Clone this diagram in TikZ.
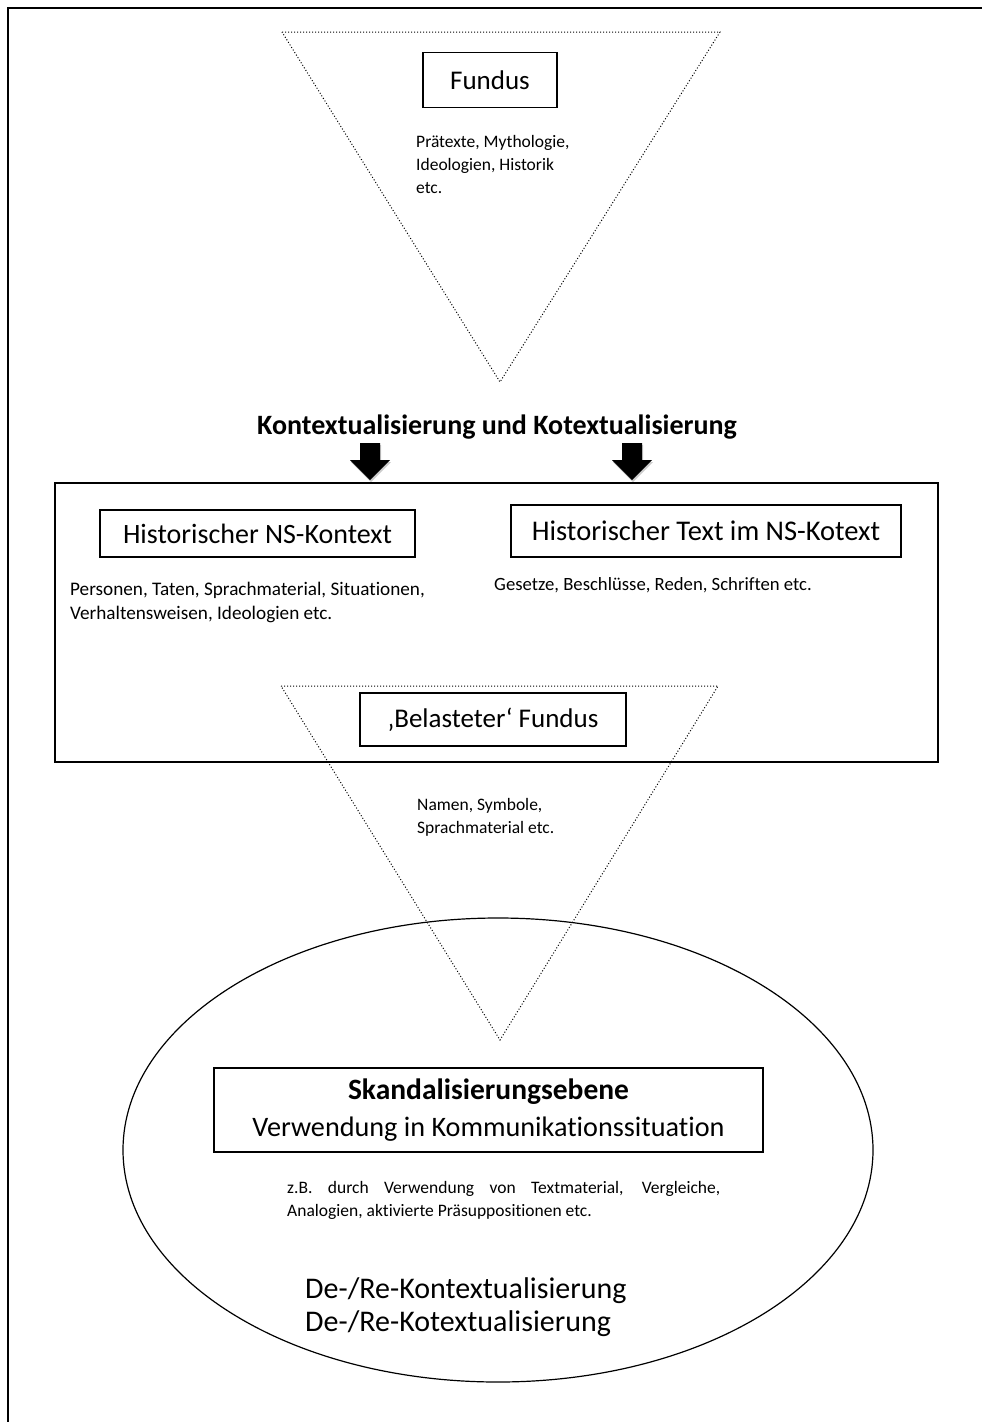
\documentclass[tikz,border=0pt]{standalone}
\usepackage{fontspec}
\setmainfont{Carlito}[Ligatures=NoCommon]
\usetikzlibrary{positioning,shadows}

\begin{document}
\begin{tikzpicture}[x=1pt,y=-1pt,
  labelbox/.style={draw,line width=1.2pt,fill=white,inner sep=0pt,font=\fontsize{27}{33}\selectfont},
  smalltext/.style={font=\fontsize{17.5}{23}\selectfont,align=left,anchor=north west,inner sep=0pt},
  bigtext/.style={font=\fontsize{30}{33}\selectfont,align=left,anchor=north west,inner sep=0pt},
  funnel/.style={line width=1pt,dash pattern=on 1pt off 2pt},
  blockarrow/.style={fill=black,drop shadow={shadow xshift=1pt,shadow yshift=-2pt,fill=black!50,opacity=0.4}}]

\useasboundingbox (0,0) rectangle (982,1422);

% Outer frame
\draw[line width=2pt] (982,8) -- (8,8) -- (8,1422);

% Top funnel
\draw[funnel] (282,32) -- (720,32) -- (500,382) -- cycle;
\node[labelbox,minimum width=134,minimum height=55] (fundus) at (490,80) {Fundus};
\node[smalltext] (fundusinfo) at (416,135) {Prätexte, Mythologie,\\Ideologien, Historik\\etc.};

% Title and arrows
\node[font=\fontsize{28}{33}\selectfont\bfseries] (title) at (497,427) {Kontextualisierung und Kotextualisierung};
\coordinate (arrowL) at (370,443);
\coordinate (arrowR) at (632,443);
\foreach \a in {arrowL,arrowR}
  \path[blockarrow] (\a) ++(-10,0) -- ++(20,0) -- ++(0,17) -- ++(10,0) -- ++(-20,20) -- ++(-20,-20) -- ++(10,0) -- cycle;

% Context frame
\draw[line width=1.5pt] (55,483) rectangle (938,762);
\node[labelbox,minimum width=315,minimum height=47,font=\fontsize{28}{33}\selectfont] (nskontext) at (257.5,533.5) {Historischer NS-Kontext};
\node[labelbox,minimum width=390,minimum height=52,font=\fontsize{28.5}{33}\selectfont] (nskotext) at (706,531) {Historischer Text im NS-Kotext};
\node[smalltext,font=\fontsize{19.2}{24}\selectfont] (kontextinfo) at (70,582) {Personen, Taten, Sprachmaterial, Situationen,\\Verhaltensweisen, Ideologien etc.};
\node[smalltext,font=\fontsize{18.7}{24}\selectfont] (kotextinfo) at (494,577) {Gesetze, Beschlüsse, Reden, Schriften etc.};

% Lower funnel
\draw[funnel] (281,686) -- (718,686) -- (500,1040) -- cycle;
\node[labelbox,minimum width=266,minimum height=53] (belastet) at (493,719.5) {‚Belasteter‘ Fundus};
\node[smalltext] (belastetinfo) at (417,798) {Namen, Symbole,\\Sprachmaterial etc.};

% Scandal level
\draw[line width=1.2pt] (498,1150) ellipse [x radius=375, y radius=232];
\node[labelbox,minimum width=549,minimum height=84,align=center,font=\fontsize{28.2}{37}\selectfont] (skandal) at (488.5,1110)
  {{\fontsize{29.5}{37}\selectfont\bfseries Skandalisierungsebene}\\Verwendung in Kommunikationssituation};
\node[smalltext,text width=433,align=justify] (skandalinfo) at (287,1181)
  {z.B. durch Verwendung von Textmaterial, Vergleiche,\linebreak Analogien, aktivierte Präsuppositionen etc.};
\node[bigtext] (rekontext) at (305,1277) {De-/Re-Kontextualisierung\\De-/Re-Kotextualisierung};
\end{tikzpicture}
\end{document}
